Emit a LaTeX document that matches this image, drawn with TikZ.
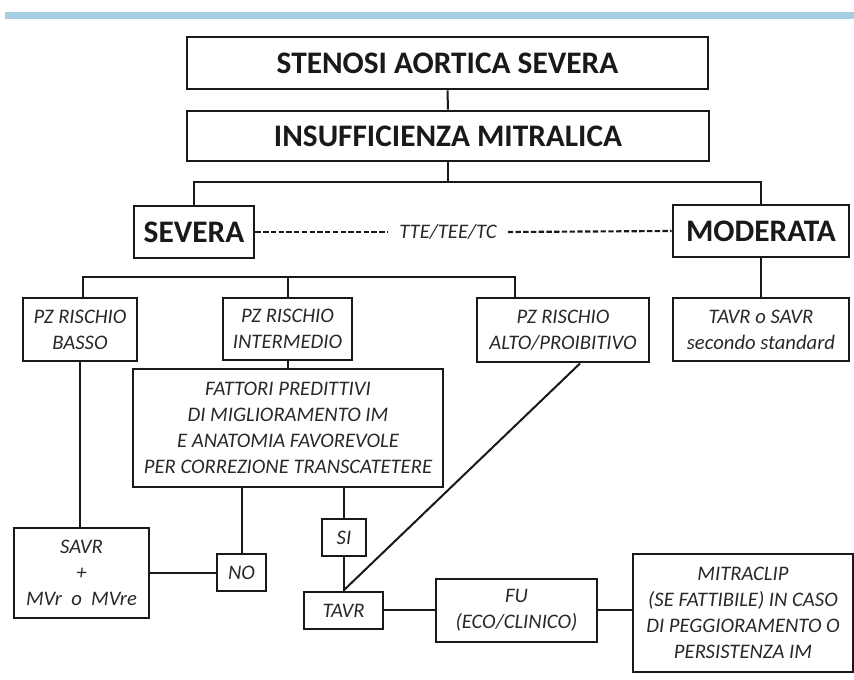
\documentclass[tikz,border=0pt]{standalone}
\usepackage{fontspec}
\setmainfont{Carlito}
\usetikzlibrary{calc}
\definecolor{barblue}{RGB}{166,206,227}
\definecolor{ink}{RGB}{25,25,25}
\definecolor{itink}{RGB}{40,40,40}
\tikzset{
  sz/.style 2 args={minimum width=#1*0.75pt, minimum height=#2*0.75pt},
  box/.style={draw=ink, line width=2.2pt, inner sep=0pt, align=center, text=itink,
    font=\fontsize{15.5}{19.5}\selectfont\itshape},
  bigbox/.style={box, text=ink, font=\fontsize{23.5}{28}\selectfont\bfseries},
  conn/.style={draw=ink, line width=1.5pt},
  dconn/.style={draw=ink, line width=1.6pt, dash pattern=on 4pt off 1.8pt},
}
\begin{document}
\begin{tikzpicture}[x=0.75pt, y=-0.75pt]
\useasboundingbox[fill=white] (0,0) rectangle (854,680);
\fill[barblue] (5,12) rectangle (854,19);

\node[bigbox, sz={521}{52}] (sten) at (447.5,63) {STENOSI AORTICA SEVERA};
\node[bigbox, sz={522}{50}] (insuf) at (448,136) {INSUFFICIENZA MITRALICA};
\node[bigbox, sz={120}{52}] (severa) at (194,232) {SEVERA};
\node[bigbox, sz={176}{52}] (moder) at (761,231) {MODERATA};
\node[text=itink, font=\fontsize{15.5}{19.5}\selectfont\itshape, inner sep=0pt, minimum width=119*0.75pt, minimum height=20pt] (tte) at (448,232) {TTE/TEE/TC};

\node[box, sz={114}{63}] (basso) at (80,329.5) {PZ RISCHIO\\BASSO};
\node[box, sz={129}{62}] (inter) at (287.5,329) {PZ RISCHIO\\INTERMEDIO};
\node[box, sz={172}{64}] (alto) at (563,330) {PZ RISCHIO\\ALTO/PROIBITIVO};
\node[box, sz={176}{63}] (tsavr) at (761,329.5) {TAVR o SAVR\\secondo standard};
\node[box, sz={310}{118}] (fatt) at (288,428) {FATTORI PREDITTIVI\\DI MIGLIORAMENTO IM\\E ANATOMIA FAVOREVOLE\\PER CORREZIONE TRANSCATETERE};
\node[box, sz={135}{90}] (savr) at (81.5,573) {SAVR\\+\\MVr\ \ o\ \ MVre};
\node[box, sz={49}{37}] (no) at (241.5,572.5) {NO};
\node[box, sz={44}{37}] (si) at (344,537.5) {SI};
\node[box, sz={79}{37}] (tavr) at (343.5,610.5) {TAVR};
\node[box, sz={161}{63}] (fu) at (516.5,610.5) {FU\\(ECO/CLINICO)};
\node[box, sz={220}{118}] (mitra) at (743,613) {MITRACLIP\\(SE FATTIBILE) IN CASO\\DI PEGGIORAMENTO O\\PERSISTENZA IM};

% top tree
\draw[conn] (sten.south) -- (insuf.north);
\coordinate (t1) at (194,182);
\coordinate (t2) at (761,182);
\draw[conn] (insuf.south) -- (insuf.south |- t1);
\draw[conn] (severa.north) -- (t1) -- (t2) -- (moder.north);
\draw[dconn] (severa.east) -- (tte.west);
\draw[dconn] (tte.east) -- (moder.west);

% branch for severa
\coordinate (bl) at (83,277);
\coordinate (br) at (515,277);
\draw[conn] (bl |- basso.north) -- (bl) -- (br) -- (br |- alto.north);
\draw[conn] (inter.north |- bl) -- (inter.north);
\draw[conn] (moder.south) -- (tsavr.north);

% lower part
\draw[conn] (inter.south) -- (inter.south |- fatt.north);
\draw[conn] (basso.south) -- (basso.south |- savr.north);
\draw[conn] (savr.east) -- (savr.east -| no.west);
\draw[conn] (no.north) -- (no.north |- fatt.south);
\draw[conn] (si.north |- fatt.south) -- (si.north);
\draw[conn] (si.south) -- (si.south |- tavr.north);
\draw[conn] ([xshift=12.75pt]alto.south) -- (tavr.north);
\draw[conn] (tavr.east) -- (fu.west);
\draw[conn] (fu.east) -- (fu.east -| mitra.west);
\end{tikzpicture}
\end{document}
